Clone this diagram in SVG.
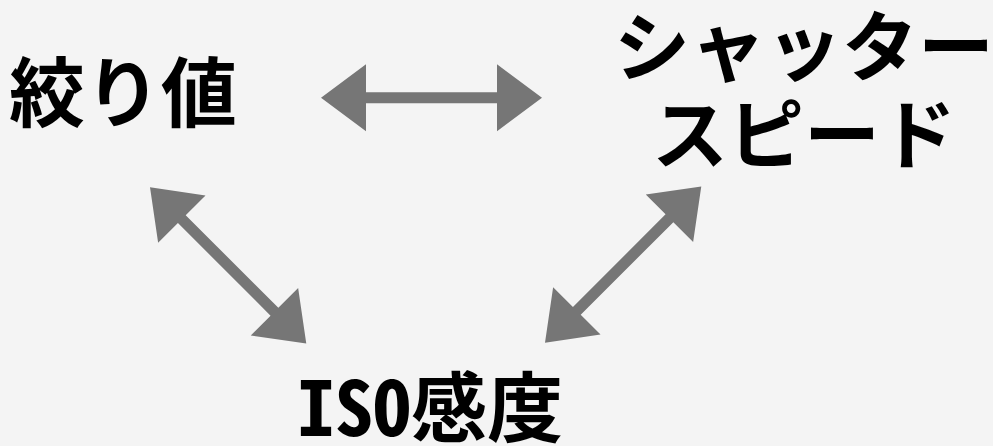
<svg xmlns="http://www.w3.org/2000/svg" xmlns:xlink="http://www.w3.org/1999/xlink" width="993" height="446" viewBox="0 0 993 446">
  <style>
    .lbl { font-family: "Noto Sans CJK JP", "Noto Sans CJK SC", sans-serif; font-weight: 700; font-size: 76px; fill: #000; }
    .mono { font-family: "Noto Sans Mono CJK JP", "Noto Sans CJK JP", monospace; font-feature-settings: "hwid"; }
    .arr { fill: #767676; }
  </style>
  <defs>
    <path id="arrow" d="M0,0 L45,-33.5 L45,-5.5 L176,-5.5 L176,-33.5 L221,0 L176,33.5 L176,5.5 L45,5.5 L45,33.5 Z"/>
  </defs>
  <rect width="993" height="446" fill="#f4f4f4"/>
  <g id="connectors" class="arr">
    <use xlink:href="#arrow" href="#arrow" transform="translate(321,97.7)"/>
    <use xlink:href="#arrow" href="#arrow" transform="translate(150,187.3) rotate(45)"/>
    <use xlink:href="#arrow" href="#arrow" transform="translate(545,342.7) rotate(-45)"/>
  </g>
  <g id="aperture">
    <text class="lbl" x="9" y="121">絞り値</text>
  </g>
  <g id="shutter">
    <text class="lbl" x="804" y="75" text-anchor="middle">シャッター</text>
    <text class="lbl" x="804" y="163" text-anchor="middle">スピード</text>
  </g>
  <g id="iso">
    <text class="lbl" x="297" y="436"><tspan class="mono">ISO</tspan>感度</text>
  </g>
</svg>
